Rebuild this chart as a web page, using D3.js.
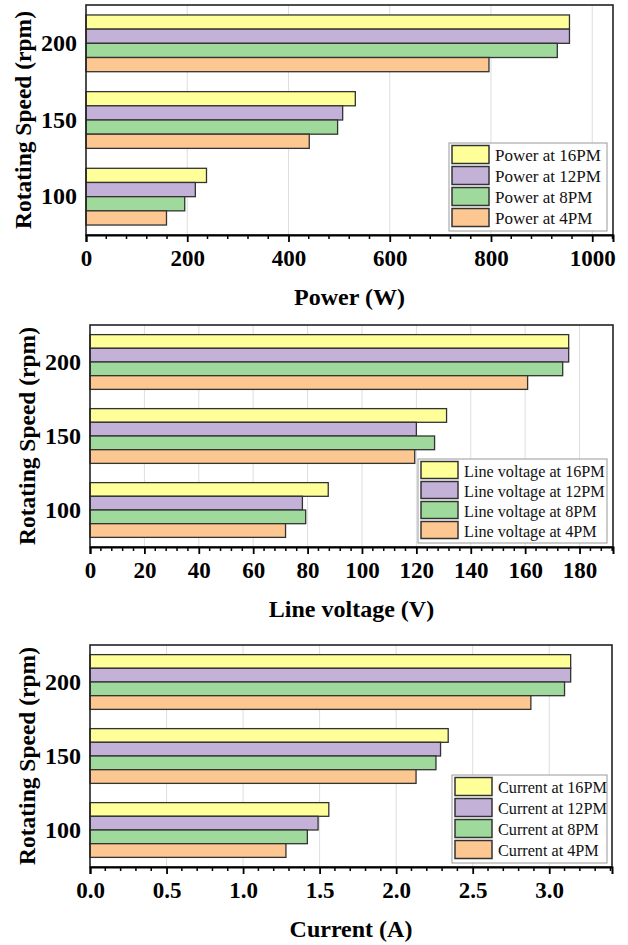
<!DOCTYPE html>
<html>
<head>
<meta charset="utf-8">
<script src="https://cdn.jsdelivr.net/npm/d3@7"></script>
<style>
  body { margin: 0; background: #fff; }
  svg { display: block; }
  text { font-family: "Liberation Serif", "Times New Roman", serif; }
</style>
</head>
<body>
<svg id="chart" width="628" height="945"></svg>
<script>
// categories (top to bottom) and series
const speeds = ['200', '150', '100'];
const times = ['16PM', '12PM', '8PM', '4PM'];

// Power (W), order: 200, 150, 100 rpm
const power16PM = [955, 532, 238];
const power12PM = [955, 507, 216];
const power8PM = [931, 497, 195];
const power4PM = [796, 441, 159];
const powerTicks = [0, 200, 400, 600, 800, 1000];

// Line voltage (V)
const voltage16PM = [176, 131.1, 87.6];
const voltage12PM = [176, 120, 78.1];
const voltage8PM = [173.8, 126.7, 79.3];
const voltage4PM = [160.9, 119.4, 71.9];
const voltageTicks = [0, 20, 40, 60, 80, 100, 120, 140, 160, 180];

// Current (A)
const current16PM = [3.14, 2.34, 1.56];
const current12PM = [3.14, 2.29, 1.49];
const current8PM = [3.10, 2.26, 1.42];
const current4PM = [2.88, 2.13, 1.28];
const currentTicks = [0, 0.5, 1.0, 1.5, 2.0, 2.5, 3.0];

const colors = ['#ffff99', '#c3b1d8', '#9fd99b', '#fdc792'];

const svg = d3.select('#chart');

function drawPanel(p) {
    const g = svg.append('g');
    const x = d3.scaleLinear().domain([0, p.max]).range([p.left, p.right]);
    const y = d3.scaleBand().domain(speeds).range([p.top, p.bottom])
        .paddingInner(0.26).paddingOuter(0.13);
    const ySub = d3.scaleBand().domain(times).range([0, y.bandwidth()]);

    // grid lines at major ticks
    g.selectAll('line.grid')
        .data(p.ticks.filter(t => t > 0))
        .enter().append('line')
        .attr('class', 'grid')
        .attr('x1', d => x(d)).attr('x2', d => x(d))
        .attr('y1', p.top).attr('y2', p.bottom)
        .attr('stroke', '#dedede')
        .attr('stroke-width', 1);

    // bars
    p.series.forEach((vals, si) => {
        g.selectAll(null)
            .data(vals)
            .enter().append('rect')
            .attr('x', x(0))
            .attr('y', (d, i) => y(speeds[i]) + ySub(times[si]))
            .attr('width', d => x(d) - x(0))
            .attr('height', ySub.bandwidth())
            .attr('fill', colors[si])
            .attr('stroke', '#333')
            .attr('stroke-width', 1.3);
    });

    // frame
    g.append('rect')
        .attr('x', p.left).attr('y', p.top)
        .attr('width', p.right - p.left).attr('height', p.bottom - p.top)
        .attr('fill', 'none')
        .attr('stroke', '#222')
        .attr('stroke-width', 1.6);

    // bottom axis
    const step = p.ticks[1] - p.ticks[0];
    const minor = d3.range(0, p.max, step / 5).filter(v => Math.abs(v / step - Math.round(v / step)) > 1e-6);
    g.selectAll('line.minor')
        .data(minor)
        .enter().append('line')
        .attr('x1', d => x(d)).attr('x2', d => x(d))
        .attr('y1', p.bottom).attr('y2', p.bottom + 4)
        .attr('stroke', '#000').attr('stroke-width', 1.5);

    const axis = d3.axisBottom(x).tickValues(p.ticks).tickSize(7).tickPadding(8)
        .tickFormat(p.format);
    const ax = g.append('g')
        .attr('transform', `translate(0,${p.bottom})`)
        .call(axis);
    ax.select('.domain').attr('stroke', '#000').attr('stroke-width', 2);
    ax.selectAll('.tick line').attr('stroke', '#000').attr('stroke-width', 1.8);
    ax.selectAll('.tick text')
        .attr('fill', '#000')
        .attr('font-family', '"Liberation Serif", serif')
        .attr('font-weight', 'bold')
        .attr('font-size', 23)
        .attr('dy', null)
        .attr('y', 31);
    ax.selectAll('.tick text').attr('dominant-baseline', 'auto');

    // y tick labels
    const yAxis = d3.axisLeft(y).tickSize(0).tickPadding(9);
    const ay = g.append('g')
        .attr('transform', `translate(${p.left},0)`)
        .call(yAxis);
    ay.select('.domain').remove();
    ay.selectAll('.tick text')
        .attr('fill', '#000')
        .attr('font-family', '"Liberation Serif", serif')
        .attr('font-weight', 'bold')
        .attr('font-size', 24);

    // axis titles
    g.append('text')
        .attr('x', (p.left + p.right) / 2)
        .attr('y', p.bottom + 70)
        .attr('text-anchor', 'middle')
        .attr('font-weight', 'bold')
        .attr('font-size', 24)
        .text(p.xTitle);

    g.append('text')
        .attr('transform', `translate(${p.left - 55},${(p.top + p.bottom) / 2}) rotate(-90)`)
        .attr('text-anchor', 'middle')
        .attr('font-weight', 'bold')
        .attr('font-size', 23.5)
        .text('Rotating Speed (rpm)');

    // legend
    const rows = times.length;
    const lgH = rows * p.lgPitch + 4;
    const lgX = 607 - p.lgW;
    const lgY = p.bottom - 4 - lgH;
    const lg = g.append('g').attr('transform', `translate(${lgX},${lgY})`);
    lg.append('rect')
        .attr('width', p.lgW).attr('height', lgH)
        .attr('fill', '#fff')
        .attr('stroke', '#999')
        .attr('stroke-width', 1);
    times.forEach((t, i) => {
        lg.append('rect')
            .attr('x', 3).attr('y', 2.5 + i * p.lgPitch)
            .attr('width', 37).attr('height', p.lgPitch - 3)
            .attr('fill', colors[i])
            .attr('stroke', '#333')
            .attr('stroke-width', 1.5);
        lg.append('text')
            .attr('x', 46)
            .attr('y', 2 + i * p.lgPitch + p.lgPitch / 2)
            .attr('dy', '0.35em')
            .attr('font-size', p.lgFont)
            .attr('fill', '#111')
            .text(`${p.lgLabel} at ${t}`);
    });
}

drawPanel({
    top: 5, bottom: 235, left: 86, right: 613, max: 1041,
    ticks: powerTicks, format: d3.format('d'),
    series: [power16PM, power12PM, power8PM, power4PM],
    xTitle: 'Power (W)', lgLabel: 'Power', lgW: 158, lgPitch: 21, lgFont: 17
});

drawPanel({
    top: 325, bottom: 547, left: 90, right: 613, max: 192.3,
    ticks: voltageTicks, format: d3.format('d'),
    series: [voltage16PM, voltage12PM, voltage8PM, voltage4PM],
    xTitle: 'Line voltage (V)', lgLabel: 'Line voltage', lgW: 189, lgPitch: 20, lgFont: 16.2
});

drawPanel({
    top: 645, bottom: 867, left: 90, right: 612, max: 3.41,
    ticks: currentTicks, format: d3.format('.1f'),
    series: [current16PM, current12PM, current8PM, current4PM],
    xTitle: 'Current (A)', lgLabel: 'Current', lgW: 155, lgPitch: 21, lgFont: 16.2
});
</script>
</body>
</html>
